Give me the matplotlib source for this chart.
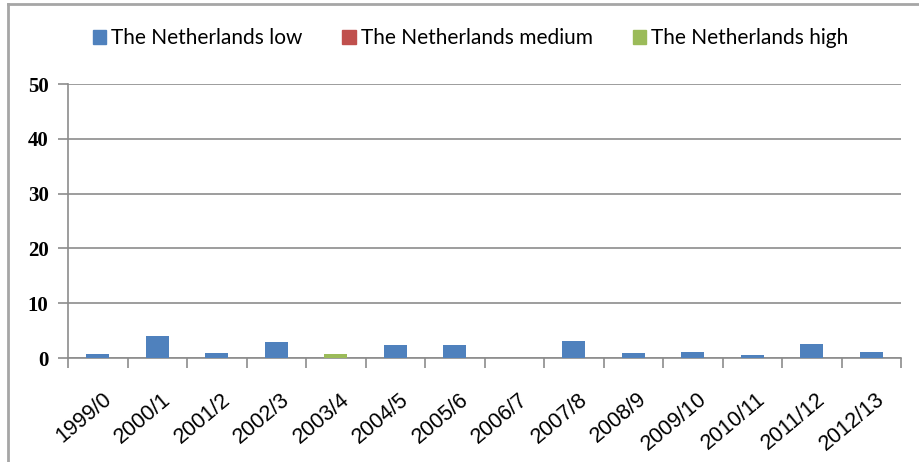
import numpy as np
import matplotlib
matplotlib.use("Agg")
import matplotlib.pyplot as plt
from matplotlib.lines import Line2D
from matplotlib.patches import Patch
import matplotlib.transforms as mtransforms

# season labels and percentages per series
seasons = ["1999/0", "2000/1", "2001/2", "2002/3", "2003/4", "2004/5", "2005/6",
           "2006/7", "2007/8", "2008/9", "2009/10", "2010/11", "2011/12", "2012/13"]
nl_low = [0.7, 4.1, 0.85, 2.9, 0.0, 2.4, 2.4, 0.0, 3.1, 0.85, 1.1, 0.6, 2.6, 1.1]
nl_medium = [0.0] * 14
nl_high = [0.0, 0.0, 0.0, 0.0, 0.7, 0.0, 0.0, 0.0, 0.0, 0.0, 0.0, 0.0, 0.0, 0.0]
series_names = ["The Netherlands low", "The Netherlands medium", "The Netherlands high"]
y_ticks = [0, 10, 20, 30, 40, 50]

colors = ["#4F81BD", "#C0504D", "#9BBB59"]
grid_col = "#8C8C8C"

W, H = 919, 462
fig = plt.figure(figsize=(W / 100, H / 100), dpi=100)
fig.patch.set_facecolor("white")

# outer frame (left and top edges)
fig.add_artist(Line2D([8 / W, 8 / W], [0, 1 - 4 / H], transform=fig.transFigure,
                      color="#A6A6A6", lw=2))
fig.add_artist(Line2D([8 / W, 1], [1 - 4 / H, 1 - 4 / H], transform=fig.transFigure,
                      color="#A6A6A6", lw=2))

ax = fig.add_axes([68 / W, (H - 358) / H, 833 / W, 274 / H])

x = np.arange(len(seasons))
low = np.array(nl_low)
med = np.array(nl_medium)
high = np.array(nl_high)
bw = 0.39
ax.bar(x, low, bw, color=colors[0], zorder=3)
ax.bar(x, med, bw, bottom=low, color=colors[1], zorder=3)
ax.bar(x, high, bw, bottom=low + med, color=colors[2], zorder=3)

ax.set_xlim(-0.5, len(seasons) - 0.5)
ax.set_ylim(0, 50)

for s in ["top", "right"]:
    ax.spines[s].set_visible(False)
for s in ["left", "bottom"]:
    ax.spines[s].set_color(grid_col)
    ax.spines[s].set_linewidth(1.2)

ax.set_yticks(y_ticks)
ax.set_yticklabels([str(v) for v in y_ticks], family="Liberation Serif",
                   fontweight="bold", fontsize=15)
ax.tick_params(axis="y", length=7, color=grid_col, width=1.2, pad=7)
ax.yaxis.grid(True, color=grid_col, lw=1.2, zorder=0)

# category boundaries get tick marks, labels sit at centers
ax.set_xticks(np.arange(-0.5, len(seasons)), minor=True)
ax.set_xticks(x)
ax.tick_params(axis="x", which="minor", length=7, color=grid_col, width=1.2)
ax.tick_params(axis="x", which="major", length=0)
ax.set_xticklabels(seasons, rotation=40, ha="right", va="center",
                   rotation_mode="anchor", family="Liberation Sans", fontsize=15.5)
offset = mtransforms.ScaledTranslation(11 / 100, -34 / 100, fig.dpi_scale_trans)
for lbl in ax.get_xticklabels():
    lbl.set_transform(lbl.get_transform() + offset)

handles = [Patch(color=c) for c in colors]
fig.legend(handles, series_names, loc="center", bbox_to_anchor=(0.512, 1 - 38 / H),
           ncol=3, frameon=False, prop={"family": "Lato", "size": 15},
           handlelength=0.65, handleheight=0.65, handletextpad=0.25,
           columnspacing=1.9)

fig.savefig("out.png", dpi=100, facecolor="white")
